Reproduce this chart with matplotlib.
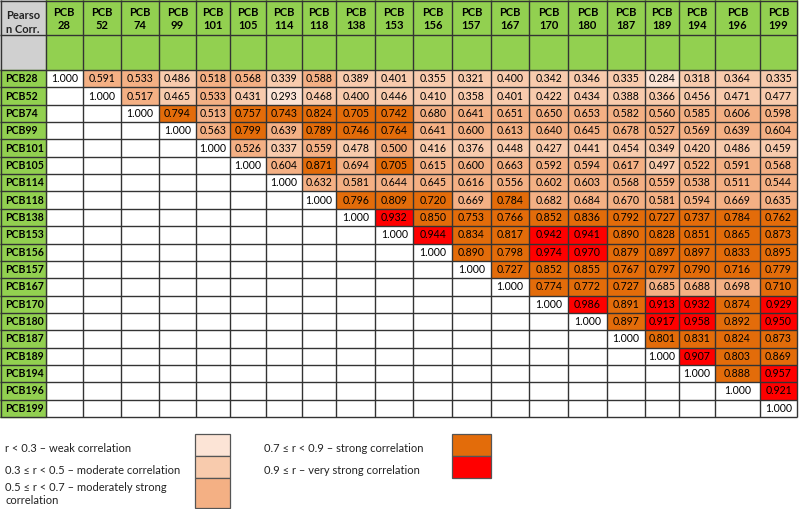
import numpy as np
import matplotlib
matplotlib.use("Agg")
import matplotlib.pyplot as plt
from matplotlib.colors import ListedColormap, BoundaryNorm
from matplotlib.patches import Rectangle

plt.rcParams['font.family'] = ['Lato', 'DejaVu Sans']

# PCB congeners (rows and columns)
congeners = ["28", "52", "74", "99", "101", "105", "114", "118", "138", "153",
             "156", "157", "167", "170", "180", "187", "189", "194", "196", "199"]

# upper triangle of the Pearson correlation matrix, row by row (starting at the diagonal)
upper_rows = [
    [1.000, 0.591, 0.533, 0.486, 0.518, 0.568, 0.339, 0.588, 0.389, 0.401, 0.355, 0.321, 0.400, 0.342, 0.346, 0.335, 0.284, 0.318, 0.364, 0.335],
    [1.000, 0.517, 0.465, 0.533, 0.431, 0.293, 0.468, 0.400, 0.446, 0.410, 0.358, 0.401, 0.422, 0.434, 0.388, 0.366, 0.456, 0.471, 0.477],
    [1.000, 0.794, 0.513, 0.757, 0.743, 0.824, 0.705, 0.742, 0.680, 0.641, 0.651, 0.650, 0.653, 0.582, 0.560, 0.585, 0.606, 0.598],
    [1.000, 0.563, 0.799, 0.639, 0.789, 0.746, 0.764, 0.641, 0.600, 0.613, 0.640, 0.645, 0.678, 0.527, 0.569, 0.639, 0.604],
    [1.000, 0.526, 0.337, 0.559, 0.478, 0.500, 0.416, 0.376, 0.448, 0.427, 0.441, 0.454, 0.349, 0.420, 0.486, 0.459],
    [1.000, 0.604, 0.871, 0.694, 0.705, 0.615, 0.600, 0.663, 0.592, 0.594, 0.617, 0.497, 0.522, 0.591, 0.568],
    [1.000, 0.632, 0.581, 0.644, 0.645, 0.616, 0.556, 0.602, 0.603, 0.568, 0.559, 0.538, 0.511, 0.544],
    [1.000, 0.796, 0.809, 0.720, 0.669, 0.784, 0.682, 0.684, 0.670, 0.581, 0.594, 0.669, 0.635],
    [1.000, 0.932, 0.850, 0.753, 0.766, 0.852, 0.836, 0.792, 0.727, 0.737, 0.784, 0.762],
    [1.000, 0.944, 0.834, 0.817, 0.942, 0.941, 0.890, 0.828, 0.851, 0.865, 0.873],
    [1.000, 0.890, 0.798, 0.974, 0.970, 0.879, 0.897, 0.897, 0.833, 0.895],
    [1.000, 0.727, 0.852, 0.855, 0.767, 0.797, 0.790, 0.716, 0.779],
    [1.000, 0.774, 0.772, 0.727, 0.685, 0.688, 0.698, 0.710],
    [1.000, 0.986, 0.891, 0.913, 0.932, 0.874, 0.929],
    [1.000, 0.897, 0.917, 0.958, 0.892, 0.950],
    [1.000, 0.801, 0.831, 0.824, 0.873],
    [1.000, 0.907, 0.803, 0.869],
    [1.000, 0.888, 0.957],
    [1.000, 0.921],
    [1.000],
]

# correlation classes
class_bounds = [0.0, 0.3, 0.5, 0.7, 0.9, 1.0]
class_colors = ["#FCE4D6", "#F8CBAD", "#F4B084", "#E36C0A", "#FF0000"]
class_labels = ["r < 0.3 \u2013 weak correlation",
                "0.3 \u2264 r < 0.5 \u2013 moderate correlation",
                "0.5 \u2264 r < 0.7 \u2013 moderately strong\ncorrelation",
                "0.7 \u2264 r < 0.9 \u2013 strong correlation",
                "0.9 \u2264 r \u2013 very strong correlation"]

n = len(congeners)
corr = np.full((n, n), np.nan)
for i, row in enumerate(upper_rows):
    corr[i, i:] = row

# table geometry (pixel space)
label_w = 45.7
col_w = [37, 38.3, 38, 36.7, 34.3, 35.7, 36, 34.3, 39.3, 38, 39, 38.4, 38.6, 39, 38.4, 38.3, 34.3, 35.7, 45, 37]
x_edges = np.concatenate([[label_w], label_w + np.cumsum(col_w)])
head_h = 35
y_edges = np.linspace(70, 417, n + 1)
x_right = x_edges[-1]

green = "#92D050"
line_c = "#333333"

fig = plt.figure(figsize=(8, 5.09), dpi=100)
ax = fig.add_axes([0, 0, 1, 1])
ax.set_xlim(0, 800)
ax.set_ylim(509, 0)
ax.axis("off")

# header and row-label backgrounds
ax.add_patch(Rectangle((0, 0), label_w, 2 * head_h, color="#D0D0D0", zorder=0))
ax.add_patch(Rectangle((label_w, 0), x_right - label_w, 2 * head_h, color=green, zorder=0))
ax.add_patch(Rectangle((0, y_edges[0]), label_w, y_edges[-1] - y_edges[0], color=green, zorder=0))

# coloured cells above the diagonal
off_diag = np.where(np.triu(np.ones((n, n)), 1) > 0, corr, np.nan)
cmap = ListedColormap(class_colors)
norm = BoundaryNorm(class_bounds, cmap.N)
ax.pcolormesh(x_edges, y_edges, np.ma.masked_invalid(off_diag), cmap=cmap, norm=norm, zorder=1)

# grid lines
ax.vlines(np.concatenate([[0.5], x_edges]), 0, y_edges[-1], color=line_c, lw=1.0, zorder=2)
ax.hlines(np.concatenate([[0.5, head_h], y_edges]), 0, x_right, color=line_c, lw=1.0, zorder=2)

# header text
ax.text(6, 15, "Pearso", fontsize=8, fontweight="bold", va="center", ha="left", color="#222222", zorder=3)
ax.text(6, 29, "n Corr.", fontsize=8, fontweight="bold", va="center", ha="left", color="#222222", zorder=3)
for j, name in enumerate(congeners):
    xc = (x_edges[j] + x_edges[j + 1]) / 2
    ax.text(xc, 12, "PCB", fontsize=8, fontweight="bold", ha="center", va="center", zorder=3)
    ax.text(xc, 25.5, name, fontsize=8, fontweight="bold", ha="center", va="center", zorder=3)

# row labels and values
for i, name in enumerate(congeners):
    yc = (y_edges[i] + y_edges[i + 1]) / 2
    ax.text(5, yc, "PCB" + name, fontsize=7.6, fontweight="bold", ha="left", va="center", zorder=3)
    for j in range(i, n):
        xc = (x_edges[j] + x_edges[j + 1]) / 2
        ax.text(xc, yc, f"{corr[i, j]:.3f}", fontsize=7.6, ha="center", va="center", color="black", zorder=3)

# legend
left_y = [(434, 456), (456, 478), (478, 508)]
right_y = [(434, 456), (456, 478)]
text_y = [449, 470, 494, 448, 470]
for k in range(5):
    if k < 3:
        (y0, y1), bx, bw, tx = left_y[k], 195, 35, 5
    else:
        (y0, y1), bx, bw, tx = right_y[k - 3], 452, 39, 264
    ax.add_patch(Rectangle((bx, y0), bw, y1 - y0, facecolor=class_colors[k],
                           edgecolor="#555555", lw=0.9, zorder=2))
    ax.text(tx, text_y[k], class_labels[k], fontsize=8, ha="left", va="center",
            linespacing=1.3, color="#222222")

fig.savefig("out.png", dpi=100)
